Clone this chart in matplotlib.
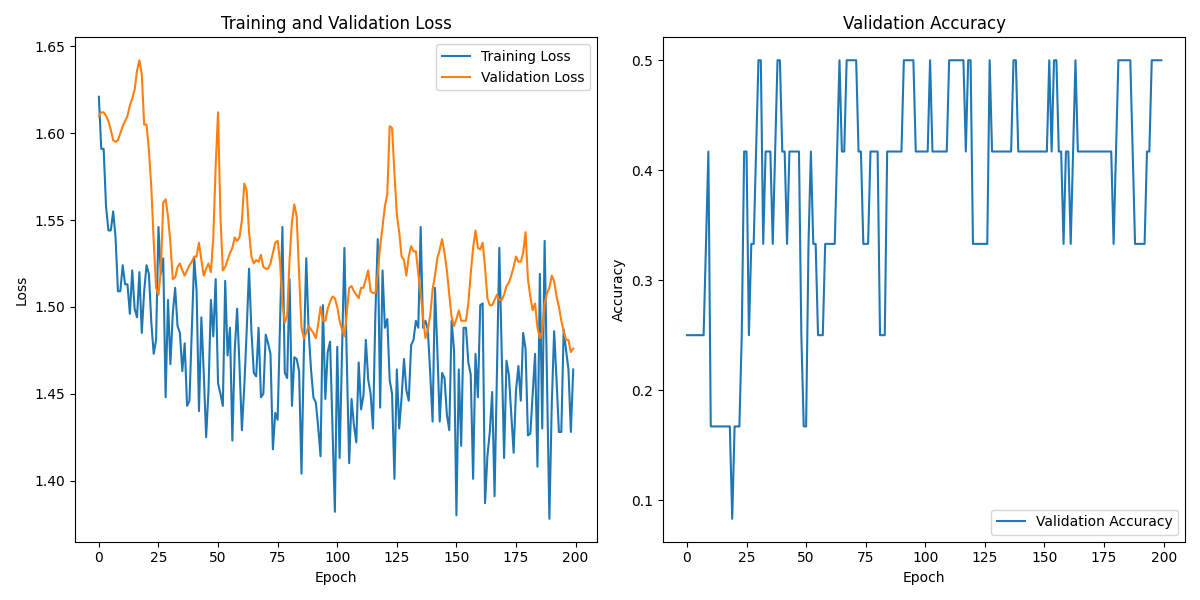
import matplotlib
matplotlib.use('Agg')
import matplotlib.pyplot as plt

# per-epoch values
train_loss = [
    1.621, 1.591, 1.591, 1.558, 1.544, 1.544, 1.555, 1.540, 1.509, 1.509,
    1.524, 1.513, 1.513, 1.496, 1.521, 1.499, 1.494, 1.520, 1.485, 1.509,
    1.524, 1.519, 1.491, 1.473, 1.481, 1.546, 1.519, 1.528, 1.448, 1.504,
    1.467, 1.496, 1.511, 1.489, 1.485, 1.463, 1.479, 1.443, 1.446, 1.487,
    1.528, 1.509, 1.440, 1.494, 1.462, 1.425, 1.452, 1.504, 1.483, 1.516,
    1.456, 1.450, 1.443, 1.515, 1.472, 1.488, 1.423, 1.475, 1.499, 1.466,
    1.429, 1.454, 1.486, 1.522, 1.486, 1.462, 1.460, 1.488, 1.448, 1.450,
    1.484, 1.479, 1.473, 1.418, 1.439, 1.435, 1.490, 1.546, 1.462, 1.459,
    1.516, 1.443, 1.471, 1.470, 1.463, 1.404, 1.474, 1.528, 1.486, 1.464,
    1.448, 1.445, 1.431, 1.414, 1.501, 1.447, 1.474, 1.480, 1.432, 1.382,
    1.477, 1.413, 1.473, 1.534, 1.470, 1.410, 1.447, 1.432, 1.422, 1.468,
    1.441, 1.449, 1.481, 1.458, 1.450, 1.430, 1.496, 1.539, 1.442, 1.521,
    1.488, 1.493, 1.458, 1.450, 1.401, 1.464, 1.430, 1.448, 1.470, 1.452,
    1.446, 1.478, 1.481, 1.492, 1.488, 1.546, 1.488, 1.492, 1.487, 1.462,
    1.434, 1.511, 1.475, 1.434, 1.462, 1.459, 1.438, 1.429, 1.492, 1.475,
    1.380, 1.464, 1.420, 1.488, 1.488, 1.468, 1.461, 1.401, 1.473, 1.448,
    1.501, 1.502, 1.387, 1.414, 1.428, 1.451, 1.391, 1.462, 1.534, 1.473,
    1.413, 1.469, 1.461, 1.438, 1.416, 1.452, 1.466, 1.446, 1.485, 1.476,
    1.426, 1.427, 1.450, 1.473, 1.408, 1.519, 1.430, 1.538, 1.458, 1.378,
    1.444, 1.486, 1.458, 1.428, 1.428, 1.487, 1.475, 1.464, 1.428, 1.464,
]

val_loss = [
    1.610, 1.612, 1.612, 1.610, 1.607, 1.602, 1.596, 1.595, 1.596, 1.600,
    1.604, 1.607, 1.610, 1.616, 1.620, 1.625, 1.636, 1.642, 1.634, 1.605,
    1.605, 1.590, 1.569, 1.538, 1.511, 1.507, 1.521, 1.560, 1.562, 1.552,
    1.537, 1.516, 1.517, 1.523, 1.525, 1.521, 1.518, 1.521, 1.524, 1.526,
    1.529, 1.529, 1.537, 1.527, 1.518, 1.522, 1.525, 1.520, 1.540, 1.581,
    1.612, 1.552, 1.521, 1.523, 1.527, 1.531, 1.534, 1.540, 1.538, 1.540,
    1.550, 1.571, 1.567, 1.543, 1.529, 1.525, 1.527, 1.526, 1.530, 1.523,
    1.522, 1.522, 1.525, 1.531, 1.537, 1.538, 1.526, 1.502, 1.491, 1.495,
    1.527, 1.549, 1.559, 1.552, 1.519, 1.488, 1.482, 1.485, 1.489, 1.487,
    1.485, 1.482, 1.490, 1.500, 1.492, 1.492, 1.499, 1.503, 1.506, 1.505,
    1.500, 1.492, 1.487, 1.483, 1.496, 1.511, 1.512, 1.509, 1.507, 1.505,
    1.511, 1.511, 1.516, 1.521, 1.509, 1.508, 1.508, 1.519, 1.535, 1.546,
    1.558, 1.565, 1.604, 1.603, 1.577, 1.553, 1.543, 1.529, 1.527, 1.518,
    1.529, 1.535, 1.532, 1.532, 1.519, 1.508, 1.494, 1.482, 1.487, 1.495,
    1.510, 1.518, 1.528, 1.533, 1.539, 1.531, 1.521, 1.507, 1.494, 1.489,
    1.493, 1.498, 1.492, 1.492, 1.492, 1.502, 1.519, 1.534, 1.544, 1.534,
    1.533, 1.537, 1.523, 1.505, 1.501, 1.501, 1.504, 1.507, 1.504, 1.504,
    1.507, 1.512, 1.514, 1.518, 1.523, 1.529, 1.526, 1.526, 1.531, 1.543,
    1.516, 1.506, 1.498, 1.502, 1.488, 1.482, 1.486, 1.502, 1.508, 1.511,
    1.518, 1.515, 1.506, 1.500, 1.492, 1.486, 1.481, 1.481, 1.474, 1.476,
]

val_acc = [
    0.250, 0.250, 0.250, 0.250, 0.250, 0.250, 0.250, 0.250, 0.333, 0.417,
    0.167, 0.167, 0.167, 0.167, 0.167, 0.167, 0.167, 0.167, 0.167, 0.083,
    0.167, 0.167, 0.167, 0.250, 0.417, 0.417, 0.250, 0.333, 0.333, 0.417,
    0.500, 0.500, 0.333, 0.417, 0.417, 0.417, 0.333, 0.417, 0.500, 0.500,
    0.417, 0.417, 0.333, 0.417, 0.417, 0.417, 0.417, 0.417, 0.250, 0.167,
    0.167, 0.333, 0.417, 0.333, 0.333, 0.250, 0.250, 0.250, 0.333, 0.333,
    0.333, 0.333, 0.333, 0.417, 0.500, 0.417, 0.417, 0.500, 0.500, 0.500,
    0.500, 0.500, 0.417, 0.417, 0.333, 0.333, 0.333, 0.417, 0.417, 0.417,
    0.417, 0.250, 0.250, 0.250, 0.417, 0.417, 0.417, 0.417, 0.417, 0.417,
    0.417, 0.500, 0.500, 0.500, 0.500, 0.500, 0.417, 0.417, 0.417, 0.417,
    0.417, 0.417, 0.500, 0.417, 0.417, 0.417, 0.417, 0.417, 0.417, 0.417,
    0.500, 0.500, 0.500, 0.500, 0.500, 0.500, 0.500, 0.417, 0.500, 0.500,
    0.333, 0.333, 0.333, 0.333, 0.333, 0.333, 0.333, 0.500, 0.417, 0.417,
    0.417, 0.417, 0.417, 0.417, 0.417, 0.417, 0.417, 0.500, 0.500, 0.417,
    0.417, 0.417, 0.417, 0.417, 0.417, 0.417, 0.417, 0.417, 0.417, 0.417,
    0.417, 0.417, 0.500, 0.417, 0.500, 0.500, 0.417, 0.417, 0.333, 0.417,
    0.417, 0.333, 0.417, 0.500, 0.417, 0.417, 0.417, 0.417, 0.417, 0.417,
    0.417, 0.417, 0.417, 0.417, 0.417, 0.417, 0.417, 0.417, 0.417, 0.333,
    0.417, 0.500, 0.500, 0.500, 0.500, 0.500, 0.500, 0.417, 0.333, 0.333,
    0.333, 0.333, 0.333, 0.417, 0.417, 0.500, 0.500, 0.500, 0.500, 0.500,
]

epochs = list(range(len(train_loss)))

fig, (ax1, ax2) = plt.subplots(1, 2, figsize=(12, 6), dpi=100)

ax1.plot(epochs, train_loss, label='Training Loss')
ax1.plot(epochs, val_loss, label='Validation Loss')
ax1.set_title('Training and Validation Loss')
ax1.set_xlabel('Epoch')
ax1.set_ylabel('Loss')
ax1.legend()

ax2.plot(epochs, val_acc, label='Validation Accuracy')
ax2.set_title('Validation Accuracy')
ax2.set_xlabel('Epoch')
ax2.set_ylabel('Accuracy')
ax2.legend(loc='lower right')

plt.tight_layout()
plt.savefig('out.png')
